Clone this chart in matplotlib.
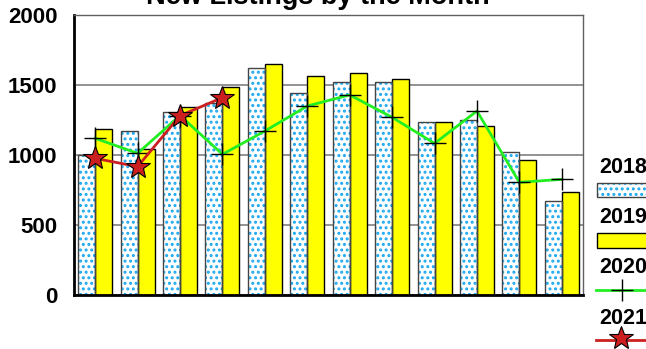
import matplotlib.pyplot as plt
import numpy as np
from matplotlib.patches import Rectangle
from matplotlib.lines import Line2D

plt.rcParams['font.family'] = ['Liberation Sans', 'DejaVu Sans']
plt.rcParams['font.weight'] = 'bold'
plt.rcParams['hatch.linewidth'] = 1.4

months = ['Jan', 'Feb', 'Mar', 'Apr', 'May', 'Jun', 'Jul', 'Aug', 'Sep', 'Oct', 'Nov', 'Dec']
y2018 = [1000, 1170, 1305, 1370, 1620, 1440, 1520, 1522, 1238, 1248, 1020, 672]
y2019 = [1183, 1045, 1345, 1483, 1648, 1562, 1583, 1540, 1238, 1205, 962, 738]
y2020 = [1119, 1012, 1282, 1005, 1171, 1350, 1429, 1269, 1083, 1314, 805, 826]
y2021 = [976, 917, 1281, 1410]

blue = '#1aa8f0'
yellow = '#ffff00'
green = '#22ee22'
red = '#cc2020'

x = np.arange(len(months))
w = 0.4

fig = plt.figure(figsize=(6.46, 3.49), dpi=100)
ax = fig.add_axes([74 / 646, 1 - 295 / 349, 509 / 646, 280 / 349])

# dotted bars: hatch layer then outline
ax.bar(x - w / 2, y2018, w, color='white', edgecolor=blue, hatch='...', linewidth=0, zorder=2)
ax.bar(x - w / 2, y2018, w, fill=False, edgecolor='#444444', linewidth=1, zorder=2.1)
ax.bar(x + w / 2, y2019, w, color=yellow, edgecolor='black', linewidth=1, zorder=2)

ax.plot(x, y2020, color=green, lw=2, marker='+', ms=16, mec='black', mew=1, zorder=3)
ax.plot(x[:len(y2021)], y2021, color=red, lw=2, marker='*', ms=18, mfc=red, mec='black',
        mew=0.8, zorder=4)

ax.set_xlim(-0.5, 11.5)
ax.set_ylim(0, 2000)
ax.set_yticks([0, 500, 1000, 1500, 2000])
ax.set_xticks([])
ax.tick_params(axis='y', length=0, pad=12, labelsize=16)
ax.yaxis.grid(True, color='#808080', lw=1.2, zorder=0)
ax.set_axisbelow(True)
for s in ['top', 'right']:
    ax.spines[s].set_color('#606060')
    ax.spines[s].set_linewidth(1)
for s in ['left', 'bottom']:
    ax.spines[s].set_color('black')
    ax.spines[s].set_linewidth(2)

fig.text(318 / 646, 1 - 4.5 / 349, 'New Listings by the Month', ha='center', va='baseline',
         fontsize=19.5, fontweight='bold')

# key on the right
def fy(py):
    return 1 - py / 349

def fx(px):
    return px / 646

labels = ['2018', '2019', '2020', '2021']
text_base = [173, 223, 273, 324]
for lab, b in zip(labels, text_base):
    fig.text(fx(599), fy(b), lab, ha='left', va='baseline', fontsize=15.5, fontweight='bold')

fig.patches.append(Rectangle((fx(597), fy(197)), fx(60), 14 / 349, transform=fig.transFigure,
                             facecolor='white', edgecolor=blue, hatch='...', linewidth=0))
fig.patches.append(Rectangle((fx(597), fy(197)), fx(60), 14 / 349, transform=fig.transFigure,
                             fill=False, edgecolor='#444444', linewidth=1))
fig.patches.append(Rectangle((fx(597), fy(248)), fx(60), 15 / 349, transform=fig.transFigure,
                             facecolor=yellow, edgecolor='black', linewidth=1))
fig.lines.append(Line2D([fx(596), fx(660)], [fy(290), fy(290)], transform=fig.transFigure,
                        color=green, lw=2))
fig.lines.append(Line2D([fx(622)], [fy(290)], transform=fig.transFigure, marker='+', ms=16,
                        mec='black', mew=1, ls='none'))
fig.lines.append(Line2D([fx(596), fx(660)], [fy(340), fy(340)], transform=fig.transFigure,
                        color=red, lw=2))
fig.lines.append(Line2D([fx(621)], [fy(338)], transform=fig.transFigure, marker='*', ms=18,
                        mfc=red, mec='black', mew=0.8, ls='none'))

fig.savefig('out.png', dpi=100)
